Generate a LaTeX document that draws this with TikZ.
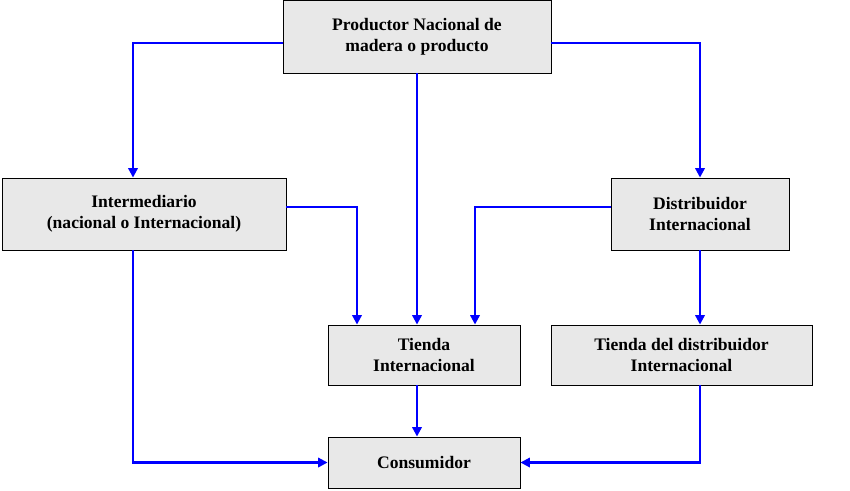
\documentclass[tikz,border=0pt]{standalone}
\usepackage{fontspec}
\setmainfont{Liberation Serif}
\usetikzlibrary{arrows.meta,shadows}
\begin{document}
\begin{tikzpicture}[x=0.03cm,y=-0.03cm,
  box/.style={draw=black,line width=0.8pt,fill=gray!18,align=center,inner sep=0pt,
    font=\fontsize{15}{18}\selectfont\bfseries,
    drop shadow={shadow xshift=1.2pt,shadow yshift=-1.2pt,fill=black,opacity=1}},
  conn/.style={draw=blue,line width=1.8pt,-{Triangle[length=8pt,width=8pt]}}]
\useasboundingbox (0,0) rectangle (850,490);
\node[box,minimum width=268*0.03cm,minimum height=73*0.03cm] (p) at (417,36.5) {Productor Nacional de\\madera o producto};
\node[box,minimum width=284*0.03cm,minimum height=72*0.03cm] (i) at (144,214) {Intermediario\\(nacional o Internacional)};
\node[box,minimum width=178*0.03cm,minimum height=72*0.03cm] (d) at (700,214) {Distribuidor\\Internacional};
\node[box,minimum width=192*0.03cm,minimum height=60*0.03cm] (t) at (424,355) {Tienda\\Internacional};
\node[box,minimum width=261*0.03cm,minimum height=60*0.03cm] (td) at (681.5,355) {Tienda del distribuidor\\Internacional};
\node[box,minimum width=192*0.03cm,minimum height=51*0.03cm] (c) at (424,462.5) {Consumidor};
\coordinate (pl) at (p.west|-0,43);
\coordinate (pr) at (p.east|-0,43);
\draw[conn] (pl) -| (133,0|-i.north);
\draw[conn] (pr) -| (700,0|-d.north);
\draw[conn] (417,0|-p.south) -- (417,0|-t.north);
\draw[conn] (i.east|-0,207) -| (357,0|-t.north);
\draw[conn] (d.west|-0,207) -| (475,0|-t.north);
\draw[conn] (d.south) -- (700,0|-td.north);
\draw[conn] (133,0|-i.south) |- (c.west);
\draw[conn] (417,0|-t.south) -- (417,0|-c.north);
\draw[conn] (700,0|-td.south) |- (c.east);
\end{tikzpicture}
\end{document}
